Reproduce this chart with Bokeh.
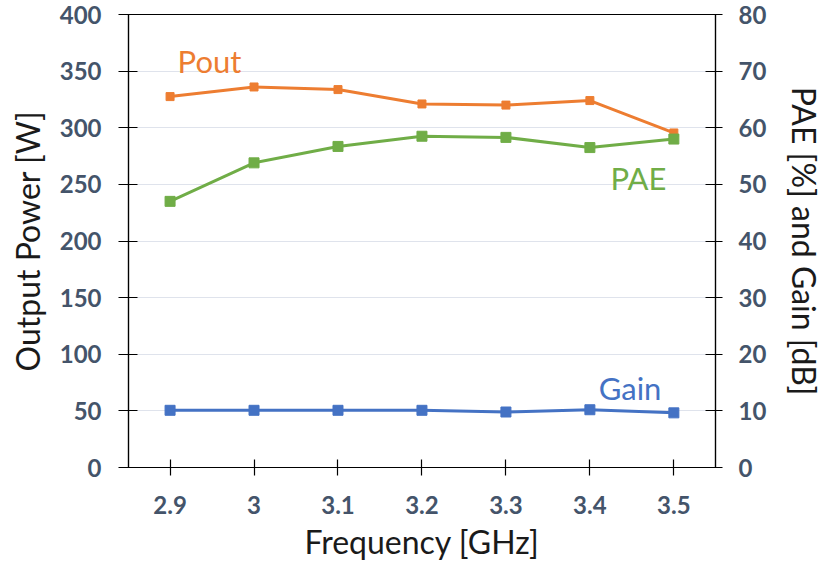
from bokeh.plotting import figure
from bokeh.models import Range1d, LinearAxis, FixedTicker, Label
from bokeh.embed import file_html
from bokeh.resources import INLINE

# ---- data ----
freq = [2.9, 3.0, 3.1, 3.2, 3.3, 3.4, 3.5]
freq_labels = ["2.9", "3", "3.1", "3.2", "3.3", "3.4", "3.5"]
pout = [327.5, 336, 333.7, 321, 320, 324, 295.4]
pae = [47.0, 53.8, 56.7, 58.5, 58.3, 56.5, 58.0]
gain = [10.1, 10.1, 10.1, 10.1, 9.8, 10.2, 9.65]
left_ticks = [0, 50, 100, 150, 200, 250, 300, 350, 400]
right_ticks = [0, 10, 20, 30, 40, 50, 60, 70, 80]

ORANGE = "#ED7D31"
GREEN = "#70AD47"
BLUE = "#4472C4"
TICKC = "#44546A"
FONT = "Lato"

p = figure(width=827, height=564, output_backend="svg", toolbar_location=None,
           x_range=Range1d(2.8505, 3.5496), y_range=Range1d(0, 400),
           min_border_left=128, min_border_right=112, min_border_top=14,
           min_border_bottom=97)
p.extra_y_ranges = {"right": Range1d(0, 80)}
p.outline_line_color = "black"
p.outline_line_width = 1.2
p.background_fill_color = "white"
p.border_fill_color = "white"

p.xgrid.visible = False
p.ygrid.ticker = FixedTicker(ticks=left_ticks)
p.ygrid.grid_line_color = "#DFE3EC"
p.ygrid.grid_line_width = 1.2

# x axis
xa = p.xaxis[0]
xa.ticker = FixedTicker(ticks=freq)
xa.major_label_overrides = {f: l for f, l in zip(freq, freq_labels)}
xa.axis_label = "Frequency [GHz]"

# left axis
ya = p.yaxis[0]
ya.ticker = FixedTicker(ticks=left_ticks)
ya.axis_label = "Output Power [W]"

# right axis
ra = LinearAxis(y_range_name="right", ticker=FixedTicker(ticks=right_ticks),
                axis_label="PAE [%] and Gain [dB]")
p.add_layout(ra, "right")

for ax in [xa, ya, ra]:
    ax.axis_line_color = "black"
    ax.axis_line_width = 1.2
    ax.major_tick_line_color = "black"
    ax.major_tick_line_width = 1.2
    ax.minor_tick_line_color = None
    ax.major_label_text_font = FONT
    ax.major_label_text_font_style = "bold"
    ax.major_label_text_font_size = "24px"
    ax.major_label_text_color = TICKC
    ax.axis_label_text_font = FONT
    ax.axis_label_text_font_style = "normal"
    ax.axis_label_text_font_size = "32px"
    ax.axis_label_text_color = "#1a1a1a"

xa.major_tick_in = 8
xa.major_tick_out = 8
xa.major_label_standoff = 20
xa.axis_label_standoff = 5
ya.major_tick_in = 9
ya.major_tick_out = 10
ya.major_label_standoff = 17
ya.axis_label_standoff = 10
ra.major_tick_in = 10
ra.major_tick_out = 7
ra.major_label_standoff = 16
ra.axis_label_standoff = 16

# series
p.line(freq, pout, line_color=ORANGE, line_width=3)
p.scatter(freq, pout, marker="square", size=8, fill_color=ORANGE, line_color=ORANGE)
p.line(freq, pae, line_color=GREEN, line_width=3, y_range_name="right")
p.scatter(freq, pae, marker="square", size=10, fill_color=GREEN, line_color=GREEN,
          y_range_name="right")
p.line(freq, gain, line_color=BLUE, line_width=3, y_range_name="right")
p.scatter(freq, gain, marker="square", size=10, fill_color=BLUE, line_color=BLUE,
          y_range_name="right")

# series labels
for txt, x, y, col, rng in [("Pout", 2.909, 359.0, ORANGE, "default"),
                            ("PAE", 3.4244, 51.1, GREEN, "right"),
                            ("Gain", 3.4105, 14.1, BLUE, "right")]:
    p.add_layout(Label(x=x, y=y, text=txt, text_color=col, text_font=FONT,
                       text_font_size="31px", text_baseline="alphabetic",
                       y_range_name=rng))

open("out.html", "w").write(file_html(p, INLINE))
